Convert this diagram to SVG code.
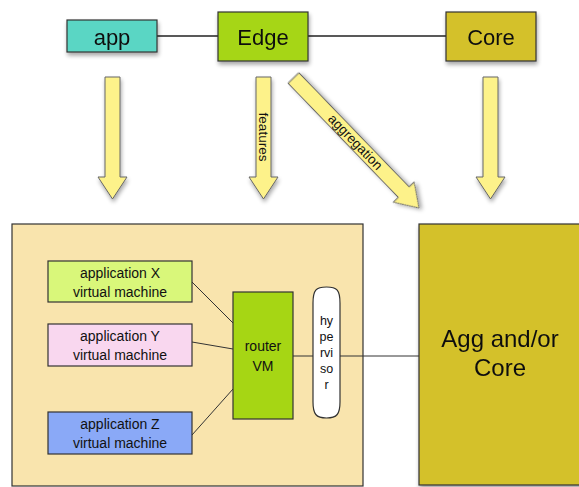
<svg xmlns="http://www.w3.org/2000/svg" width="579" height="487" viewBox="0 0 579 487">
  <defs>
    <filter id="shadow" x="-20%" y="-20%" width="150%" height="150%">
      <feGaussianBlur in="SourceAlpha" stdDeviation="2"/>
      <feOffset dx="1" dy="3" result="off"/>
      <feComponentTransfer><feFuncA type="linear" slope="0.35"/></feComponentTransfer>
      <feMerge><feMergeNode/><feMergeNode in="SourceGraphic"/></feMerge>
    </filter>
    <!-- downward block arrow, origin at top centre of the shaft -->
    <path id="blockArrow" d="M-7.5,0 H7.5 V100 H14.5 L0,122 L-14.5,100 H-7.5 Z"/>
  </defs>
  <style>
    text { font-family: "Liberation Sans", Arial, sans-serif; fill: #111; text-anchor: middle; }
    .box { stroke: #333; stroke-width: 1.2; }
    .top { font-size: 22px; }
    .vm { font-size: 14px; }
    .hv { font-size: 12.5px; }
    .big { font-size: 24px; }
    .arrow { fill: #fdf28a; stroke: #666; stroke-width: 1; }
    .lbl { font-size: 13.5px; }
    .wire { stroke: #222; stroke-width: 1.3; fill: none; }
    .wire-thin { stroke: #333; stroke-width: 1; fill: none; }
  </style>

  <!-- host machine background -->
  <g id="host">
    <rect class="box" x="12" y="224" width="351" height="262" fill="#f9e4ad"/>
  </g>

  <!-- links between the tiers -->
  <g id="connectors">
    <line class="wire" x1="157" y1="36" x2="218" y2="36"/>
    <line class="wire" x1="308" y1="36" x2="446" y2="36"/>
    <line class="wire-thin" x1="192" y1="282" x2="233" y2="323"/>
    <line class="wire-thin" x1="192" y1="342" x2="233" y2="349"/>
    <line class="wire-thin" x1="192" y1="435" x2="233" y2="389"/>
    <line class="wire-thin" x1="293" y1="356" x2="313" y2="356"/>
    <line class="wire-thin" x1="340" y1="356" x2="419" y2="356"/>
  </g>

  <!-- block arrows -->
  <g id="arrows">
    <use href="#blockArrow" class="arrow" transform="translate(112.5,77)" filter="url(#shadow)"/>
    <g transform="translate(263.5,77)">
      <use href="#blockArrow" class="arrow" filter="url(#shadow)"/>
      <text class="lbl" transform="translate(0,60) rotate(90)" y="4.5">features</text>
    </g>
    <g transform="translate(293.5,78) rotate(-44)">
      <path class="arrow" filter="url(#shadow)" d="M-7.5,0 H7.5 V158.7 H14.5 L0,180.7 L-14.5,158.7 H-7.5 Z"/>
      <text class="lbl" transform="translate(0,89) rotate(90)" y="4.5">aggregation</text>
    </g>
    <use href="#blockArrow" class="arrow" transform="translate(490.5,77)" filter="url(#shadow)"/>
  </g>

  <g id="app" filter="url(#shadow)">
    <rect class="box" x="67" y="20" width="90" height="32" fill="#5ad6c4"/>
    <text class="top" x="112" y="45">app</text>
  </g>
  <g id="edge" filter="url(#shadow)">
    <rect class="box" x="218" y="12" width="90" height="49" fill="#a6d614"/>
    <text class="top" x="263" y="45">Edge</text>
  </g>
  <g id="core" filter="url(#shadow)">
    <rect class="box" x="446" y="12" width="90" height="49" fill="#d4c12a"/>
    <text class="top" x="491" y="45">Core</text>
  </g>

  <g id="appX">
    <rect class="box" x="48" y="261" width="144" height="41" fill="#d9f77a"/>
    <text class="vm" x="120" y="278">application X</text>
    <text class="vm" x="120" y="297">virtual machine</text>
  </g>
  <g id="appY">
    <rect class="box" x="48" y="324" width="144" height="42" fill="#f9d7ef"/>
    <text class="vm" x="120" y="341">application Y</text>
    <text class="vm" x="120" y="360">virtual machine</text>
  </g>
  <g id="appZ">
    <rect class="box" x="48" y="412" width="144" height="42" fill="#8aa9f7"/>
    <text class="vm" x="120" y="429">application Z</text>
    <text class="vm" x="120" y="448">virtual machine</text>
  </g>
  <g id="routerVM">
    <rect class="box" x="233" y="292" width="60" height="127" fill="#a6d614"/>
    <text class="vm" x="263" y="351">router</text>
    <text class="vm" x="263" y="371">VM</text>
  </g>
  <g id="hypervisor">
    <path class="box" fill="#ffffff" d="M313,303 C313,290 316,287 326.5,287 C337,287 340,290 340,303 L340,402 C340,414 337,418 326.5,418 C316,418 313,414 313,402 Z"/>
    <text class="hv" x="326.5" y="325">hy</text>
    <text class="hv" x="326.5" y="341">pe</text>
    <text class="hv" x="326.5" y="357">rvi</text>
    <text class="hv" x="326.5" y="373">so</text>
    <text class="hv" x="326.5" y="389">r</text>
  </g>

  <g id="aggCore" filter="url(#shadow)">
    <rect class="box" x="419" y="224" width="170" height="261" fill="#d4c12a"/>
    <text class="big" x="500" y="347">Agg and/or</text>
    <text class="big" x="500" y="376">Core</text>
  </g>
</svg>
